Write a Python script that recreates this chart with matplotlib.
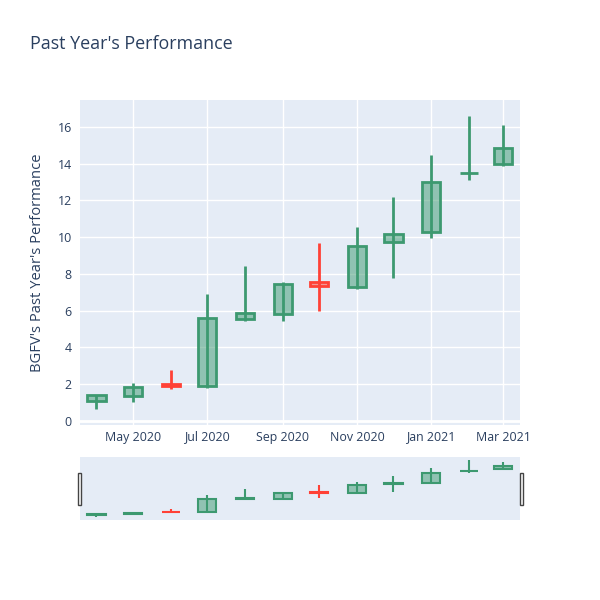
import datetime as dt
import matplotlib
matplotlib.use("Agg")
import matplotlib.pyplot as plt
import matplotlib.dates as mdates
from matplotlib.patches import Rectangle

plt.rcParams['font.family'] = ['Open Sans', 'DejaVu Sans']

# data (monthly candles)
months = ["2020-04-01", "2020-05-01", "2020-06-01", "2020-07-01", "2020-08-01", "2020-09-01",
          "2020-10-01", "2020-11-01", "2020-12-01", "2021-01-01", "2021-02-01", "2021-03-01"]
opens = [1.10, 1.36, 2.01, 1.90, 5.57, 5.80, 7.58, 7.30, 9.76, 10.27, 13.47, 13.97]
highs = [1.40, 2.08, 2.78, 6.91, 8.45, 7.58, 9.70, 10.57, 12.17, 14.48, 16.60, 16.10]
lows = [0.65, 1.05, 1.75, 1.78, 5.42, 5.42, 6.00, 7.16, 7.77, 9.95, 13.10, 13.88]
closes = [1.40, 1.83, 1.93, 5.60, 5.90, 7.48, 7.35, 9.52, 10.20, 13.02, 13.52, 14.84]

tick_dates = ["2020-05-01", "2020-07-01", "2020-09-01", "2020-11-01", "2021-01-01", "2021-03-01"]
tick_labels = ["May 2020", "Jul 2020", "Sep 2020", "Nov 2020", "Jan 2021", "Mar 2021"]

inc_col = "#3D9970"
dec_col = "#FF4136"
bg = "#E5ECF6"
txt = "#2a3f5f"

x = mdates.date2num([dt.date.fromisoformat(m) for m in months])
xt = mdates.date2num([dt.date.fromisoformat(m) for m in tick_dates])
xlim = (mdates.date2num(dt.date(2020, 3, 18)) + 0.5, mdates.date2num(dt.date(2021, 3, 15)))
ylim = (-0.22, 17.47)


def candles(ax, lw=2, width=15):
    for xi, o, h, l, c in zip(x, opens, highs, lows, closes):
        col = inc_col if c >= o else dec_col
        ax.vlines(xi, l, h, color=col, lw=lw, zorder=2)
        lo, hi = min(o, c), max(o, c)
        ax.bar(xi, hi - lo, bottom=lo, width=width, color=matplotlib.colors.to_rgba(col, 0.5),
               edgecolor=col, linewidth=lw, zorder=3)


fig = plt.figure(figsize=(6, 6), dpi=100)
fig.text(30 / 600, 1 - 44 / 600, "Past Year's Performance", fontsize=12.9, color=txt, va='center')

ax = fig.add_axes([80 / 600, 1 - 425 / 600, 440 / 600, 325 / 600])
ax.set_facecolor(bg)
for s in ax.spines.values():
    s.set_visible(False)
candles(ax)
ax.set_xlim(xlim)
ax.set_ylim(ylim)
ax.set_yticks(range(0, 17, 2))
ax.set_xticks(xt)
ax.set_xticklabels(tick_labels)
ax.tick_params(length=0, labelsize=8.9, labelcolor=txt, pad=4)
ax.tick_params(axis='y', pad=6)
ax.grid(True, color="white", lw=1)
ax.axhline(0, color="white", lw=2, zorder=1)
ax.set_axisbelow(True)
ax.set_ylabel("BGFV's Past Year's Performance", fontsize=10.6, color=txt, labelpad=9)

# range slider
sl = fig.add_axes([80 / 600, 1 - 520 / 600, 440 / 600, 63 / 600])
sl.set_facecolor(bg)
for s in sl.spines.values():
    s.set_visible(False)
candles(sl, lw=1.5, width=15)
sl.set_xlim(xlim)
sl.set_ylim(ylim)
sl.set_xticks([])
sl.set_yticks([])
for hx in (77.5 / 600, 519.5 / 600):
    fig.patches.append(Rectangle((hx, 1 - 505 / 600), 3 / 600, 32 / 600, transform=fig.transFigure,
                                 facecolor="white", edgecolor="#444444", lw=1))

plt.savefig("out.png", dpi=100)
